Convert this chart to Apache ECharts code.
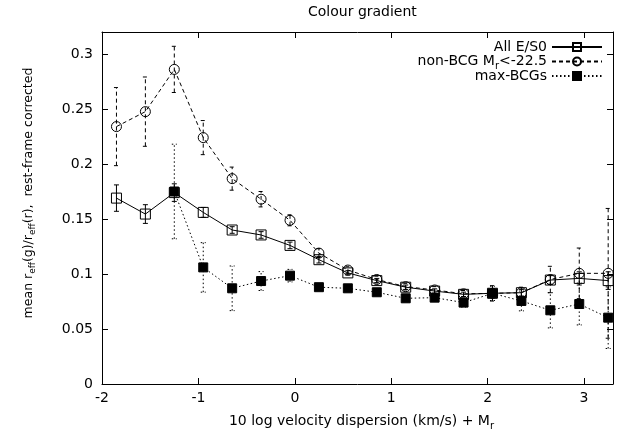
<!DOCTYPE html>
<html><head><meta charset="utf-8">
<script src="https://cdn.jsdelivr.net/npm/echarts@6/dist/echarts.min.js"></script>
<style>html,body{margin:0;padding:0;background:#fff}#c{width:631px;height:436px}</style>
</head><body><div id="c"></div>
<script>
// ---- data ----
const xs = [-1.85, -1.55, -1.25, -0.95, -0.65, -0.35, -0.05, 0.25, 0.55, 0.85, 1.15, 1.45, 1.75, 2.05, 2.35, 2.65, 2.95, 3.25];
const allVals = [0.169, 0.1545, 0.174, 0.156, 0.140, 0.1355, 0.126, 0.113, 0.101, 0.094, 0.088, 0.0845, 0.0815, 0.0825, 0.083, 0.0945, 0.096, 0.094];
const allErr  = [0.012, 0.0085, 0.008, 0.0045, 0.003, 0.003, 0.003, 0.003, 0.002, 0.002, 0.002, 0.002, 0.002, 0.002, 0.003, 0.004, 0.006, 0.008];
const nonVals = [0.234, 0.2476, 0.286, 0.224, 0.1867, 0.168, 0.1488, 0.119, 0.1036, 0.095, 0.0885, 0.0855, 0.082, 0.0824, 0.083, 0.095, 0.1006, 0.1006];
const nonErr  = [0.0355, 0.0315, 0.021, 0.0155, 0.0105, 0.007, 0.005, 0.004, 0.003, 0.003, 0.003, 0.003, 0.003, 0.007, 0.005, 0.012, 0.023, 0.059];
const maxVals = [null, null, 0.175, 0.106, 0.087, 0.0936, 0.0985, 0.088, 0.087, 0.0834, 0.0779, 0.0785, 0.074, 0.0824, 0.0755, 0.067, 0.0727, 0.0603];
const maxErr  = [null, null, 0.043, 0.0225, 0.0203, 0.0086, 0.0057, 0.003, 0.003, 0.003, 0.003, 0.003, 0.004, 0.0065, 0.009, 0.016, 0.019, 0.028];
const seriesNames = ['All E/S0', 'non-BCG', 'max-BCGs'];
const title = 'Colour gradient';
const xTitle = '10 log velocity dispersion (km/s) + M';
// ---- chart ----
const FONT = 'DejaVu Sans';
const chart = echarts.init(document.getElementById('c'), null, {renderer: 'canvas'});
const subStyle = {fontSize: 10, fontFamily: FONT, color: '#000', lineHeight: 12, padding: [9, 0, 0, 0]};

function pairs(vals) { return xs.map((x, i) => vals[i] == null ? null : [x, vals[i]]).filter(Boolean); }
function errData(vals, errs) { return xs.map((x, i) => vals[i] == null ? null : [x, vals[i] - errs[i], vals[i] + errs[i]]).filter(Boolean); }
function errSeries(vals, errs, dash) {
  return {
    type: 'custom', silent: true, z: 1, data: errData(vals, errs), encode: {x: 0, y: [1, 2]},
    renderItem(params, api) {
      const x = api.value(0);
      const lo = api.coord([x, api.value(1)]), hi = api.coord([x, api.value(2)]);
      const w = 2.5;
      const st = {stroke: '#000', lineWidth: 1, lineDash: dash, fill: null};
      return {type: 'group', children: [
        {type: 'line', shape: {x1: lo[0], y1: lo[1], x2: hi[0], y2: hi[1]}, style: st},
        {type: 'line', shape: {x1: lo[0] - w, y1: lo[1], x2: lo[0] + w, y2: lo[1]}, style: st},
        {type: 'line', shape: {x1: hi[0] - w, y1: hi[1], x2: hi[0] + w, y2: hi[1]}, style: st}
      ]};
    }
  };
}
function lineSeries(name, vals, symbol, fill, dash, size) {
  return {
    type: 'line', name, data: pairs(vals), symbol, symbolSize: size, showAllSymbol: true, z: 3,
    lineStyle: {color: '#000', width: 1, type: dash},
    itemStyle: {color: fill, borderColor: '#000', borderWidth: 1}
  };
}
const axisLineStyle = {show: true, onZero: false, lineStyle: {color: '#000', width: 1}};
const axisCommonX = {type: 'value', min: -2, max: 3.3, interval: 1,
  axisLine: axisLineStyle,
  axisTick: {show: true, inside: true, length: 6, lineStyle: {color: '#000'}},
  splitLine: {show: false}};
const axisCommonY = {type: 'value', min: 0, max: 0.32, interval: 0.05,
  axisLine: axisLineStyle,
  axisTick: {show: true, inside: true, length: 6, lineStyle: {color: '#000'}},
  splitLine: {show: false}};

chart.setOption({
  animation: false,
  backgroundColor: '#fff',
  title: {text: title, left: 303, top: 0, textStyle: {fontFamily: FONT, fontSize: 14, fontWeight: 'normal', color: '#000'}},
  grid: {left: 102, right: 18, top: 32, bottom: 52},
  legend: {
    data: seriesNames, orient: 'vertical', align: 'right', right: 23, top: 35,
    itemWidth: 50, itemHeight: 10, itemGap: -2,
    formatter: n => n === 'non-BCG' ? '{a|non-BCG M}{s|r}{a|<-22.5}' : '{a|' + n + '}',
    textStyle: {fontFamily: FONT, fontSize: 14, color: '#000', lineHeight: 12,
      rich: {a: {fontFamily: FONT, fontSize: 14, color: '#000', lineHeight: 12}, s: subStyle}}
  },
  xAxis: [
    Object.assign({}, axisCommonX, {position: 'bottom',
      axisLabel: {show: true, color: '#000', fontFamily: FONT, fontSize: 14, margin: 7, showMaxLabel: false},
      name: '{a|' + xTitle + '}{s|r}', nameLocation: 'middle', nameGap: 30,
      nameTextStyle: {fontFamily: FONT, fontSize: 14, color: '#000', padding: [0, 0, 0, 8],
        rich: {a: {fontFamily: FONT, fontSize: 14, color: '#000', lineHeight: 15}, s: subStyle}}}),
    Object.assign({}, axisCommonX, {position: 'top', axisLabel: {show: false}})
  ],
  yAxis: [
    Object.assign({}, axisCommonY, {position: 'left',
      axisLabel: {show: true, color: '#000', fontFamily: FONT, fontSize: 14, margin: 9, showMaxLabel: false},
      name: '{a|mean r}{s|eff}{a|(g)/r}{s|eff}{a|(r),  rest-frame corrected}', nameLocation: 'middle', nameGap: 66,
      nameTextStyle: {fontFamily: FONT, fontSize: 12.5, color: '#000', padding: [0, 0, 0, 30],
        rich: {a: {fontFamily: FONT, fontSize: 12.5, color: '#000', lineHeight: 15}, s: Object.assign({}, subStyle, {fontSize: 9})}}}),
    Object.assign({}, axisCommonY, {position: 'right', axisLabel: {show: false}})
  ],
  series: [
    errSeries(allVals, allErr, null),
    lineSeries('All E/S0', allVals, 'rect', 'rgba(0,0,0,0)', 'solid', 10),
    errSeries(nonVals, nonErr, [4, 3]),
    lineSeries('non-BCG', nonVals, 'circle', 'rgba(0,0,0,0)', [4, 3], 10),
    errSeries(maxVals, maxErr, [1.5, 2.5]),
    lineSeries('max-BCGs', maxVals, 'rect', '#000', [1.5, 2.5], 9)
  ]
});
</script></body></html>
